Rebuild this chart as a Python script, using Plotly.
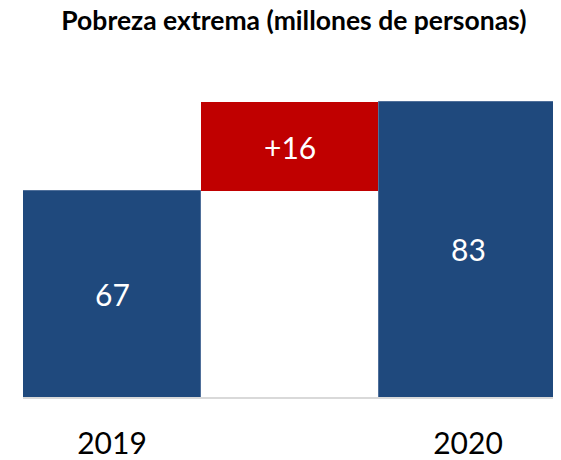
import plotly.graph_objects as go

# Datos
categorias = ["2019", "Cambio", "2020"]
valores = [67, 16, 83]
medidas = ["absolute", "relative", "total"]
etiquetas = ["67", "+16", "83"]
ticks = ["2019", "", "2020"]

AZUL = "#1F497D"
ROJO = "#C00000"
Y_MIN = 30

fig = go.Figure(go.Waterfall(
    x=categorias,
    y=valores,
    measure=medidas,
    textposition="none",
    increasing=dict(marker=dict(color=ROJO)),
    totals=dict(marker=dict(color=AZUL, line=dict(color="#4F6F9A", width=1))),
    decreasing=dict(marker=dict(color=AZUL)),
    connector=dict(visible=False),
))

# etiquetas centradas en la parte visible de cada barra
acum = 0
for i, (val, med, txt) in enumerate(zip(valores, medidas, etiquetas)):
    if med == "absolute":
        y0, y1 = Y_MIN, val
        acum = val
    elif med == "relative":
        y0, y1 = acum, acum + val
        acum += val
    else:
        y0, y1 = Y_MIN, acum
    fig.add_annotation(x=i, y=(y0 + y1) / 2, text=txt, showarrow=False,
                       font=dict(color="white", size=30, family="Lato"))

# la página deja 8px de margen al body
fig.update_layout(
    template=None,
    width=553,
    height=452,
    paper_bgcolor="white",
    plot_bgcolor="white",
    margin=dict(l=15, r=4, t=55, b=63),
    waterfallgap=0,
    showlegend=False,
    title=dict(
        text="<b>Pobreza extrema (millones de personas)</b>",
        x=0.517, xanchor="center", y=0.992, yanchor="top",
        font=dict(family="Lato", size=26.5, color="black"),
    ),
    font=dict(family="Lato"),
)
fig.update_xaxes(
    type="category",
    range=[-0.5, len(categorias) - 0.5],
    tickvals=categorias, ticktext=ticks,
    tickfont=dict(size=30, color="black"),
    showline=True, linecolor="#D9D9D9", linewidth=2,
    showgrid=False, ticks="", ticklabelstandoff=19,
)
fig.update_yaxes(range=[Y_MIN, 90], visible=False, showgrid=False)

fig.write_html("out.html")
